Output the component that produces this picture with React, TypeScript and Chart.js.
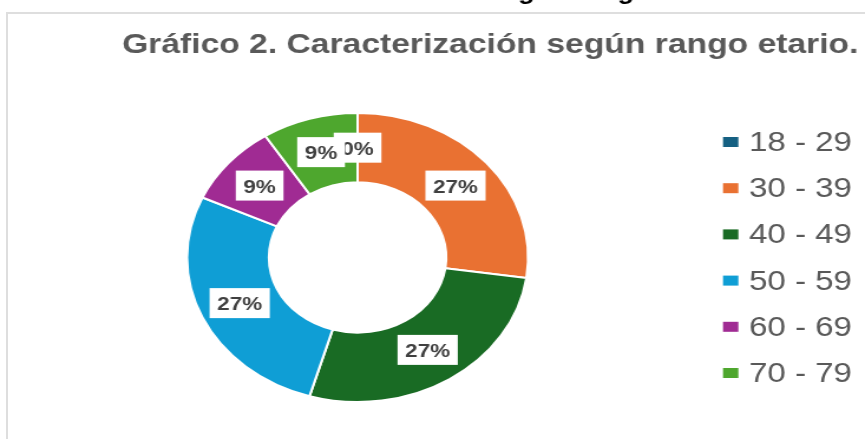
import React, { useEffect, useRef } from 'react';
import { Chart, registerables } from 'chart.js';

Chart.register(...registerables);

// ---- data ----
const categories = ['18 - 29', '30 - 39', '40 - 49', '50 - 59', '60 - 69', '70 - 79'];
const counts = [0, 3, 3, 3, 1, 1];
const sliceColors = ['#156082', '#E97132', '#196B24', '#0F9ED5', '#A02B93', '#4EA72E'];
const titleText = 'Gráfico 2. Caracterización según rango etario.';
const headingText = 'Caracterización según rango etario';

// ---- layout (internal canvas is stretched horizontally to 865px) ----
const W = 733;
const H = 439;
const SX = 865 / W;
const FONT = '"Liberation Sans", Arial, Helvetica, sans-serif';

const decorPlugin = {
  id: 'decor',
  afterDatasetsDraw(chart: any) {
    const ctx = chart.ctx as CanvasRenderingContext2D;
    const meta = chart.getDatasetMeta(0);
    const total = counts.reduce((a, b) => a + b, 0);
    ctx.save();
    ctx.font = `bold 19px ${FONT}`;
    ctx.textAlign = 'center';
    ctx.textBaseline = 'alphabetic';
    meta.data.forEach((arc: any, i: number) => {
      const { x, y } = arc.tooltipPosition(false);
      const txt = Math.round((counts[i] / total) * 100) + '%';
      const tw = ctx.measureText(txt).width;
      const bw = tw + 13;
      const bh = 30;
      ctx.fillStyle = '#ffffff';
      ctx.fillRect(x - bw / 2, y - bh / 2, bw, bh);
      ctx.fillStyle = '#404040';
      ctx.fillText(txt, x, y + 7);
    });
    ctx.restore();
  },
  afterDraw(chart: any) {
    const ctx = chart.ctx as CanvasRenderingContext2D;
    ctx.save();
    // cut-off heading above the frame
    ctx.font = `bold 23px ${FONT}`;
    ctx.fillStyle = '#000000';
    ctx.textAlign = 'left';
    ctx.textBaseline = 'alphabetic';
    const gx = 518 / SX;
    const pre = ctx.measureText('Caracterización se').width;
    ctx.fillText(headingText, gx - pre, -1.5);

    // title
    ctx.font = `bold 28.5px ${FONT}`;
    ctx.fillStyle = '#595959';
    ctx.fillText(titleText, 122 / SX, 53);

    // legend
    const labels = chart.data.labels as string[];
    const colors = chart.data.datasets[0].backgroundColor as string[];
    ctx.font = `28px ${FONT}`;
    labels.forEach((lab, i) => {
      const base = 151 + i * 46.2;
      ctx.fillStyle = colors[i];
      ctx.fillRect(723 / SX, base - 14, 13, 10);
      ctx.fillStyle = '#595959';
      ctx.fillText(lab, 749 / SX, base);
    });
    ctx.restore();
  },
};

export default function App() {
  const ref = useRef<HTMLCanvasElement>(null);
  useEffect(() => {
    if (!ref.current) return;
    const chart = new Chart(ref.current, {
      type: 'doughnut',
      data: {
        labels: categories,
        datasets: [
          {
            data: counts,
            backgroundColor: sliceColors,
            borderColor: '#ffffff',
            borderWidth: 2,
          },
        ],
      },
      options: {
        responsive: false,
        animation: false,
        cutout: '52%',
        layout: { padding: { left: 157.5, right: 284.5, top: 112, bottom: 36 } },
        plugins: {
          legend: { display: false },
          tooltip: { enabled: false },
          title: { display: false },
        },
      },
      plugins: [decorPlugin],
    });
    return () => chart.destroy();
  }, []);
  return (
    <div
      style={{
        position: 'fixed',
        left: 0,
        top: 0,
        width: 865,
        height: 439,
        background: '#ffffff',
        overflow: 'hidden',
      }}
    >
      <div
        style={{
          position: 'absolute',
          left: 6,
          top: 12,
          width: 1200,
          height: 1200,
          borderTop: '2px solid #dedede',
          borderLeft: '2px solid #dedede',
        }}
      />
      <canvas
        ref={ref}
        width={W}
        height={H}
        style={{ position: 'absolute', left: 0, top: 0, width: '865px', height: '439px' }}
      />
    </div>
  );
}
